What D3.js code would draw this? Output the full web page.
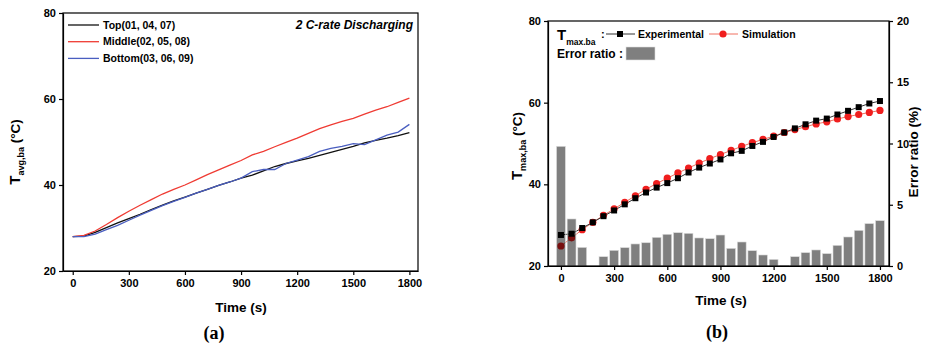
<!DOCTYPE html>
<html>
<head>
<meta charset="utf-8">
<script src="https://cdn.jsdelivr.net/npm/d3@7"></script>
<style>
  body { margin: 0; background: #fff; }
  svg { font-family: "Liberation Sans", Arial, sans-serif; }
  .axis text { font-size: 11px; font-weight: bold; fill: #000; }
  .axis path, .axis line { stroke: #000; stroke-width: 1.2; }
  .title { font-size: 13.5px; font-weight: bold; }
  .lbl { font-size: 10.5px; font-weight: bold; }
  .cap { font-family: "Liberation Serif", "DejaVu Serif", serif; font-size: 18px; font-weight: bold; }
</style>
</head>
<body>
<svg id="chart" width="931" height="345"></svg>
<script>
// time axis shared by all series (s)
var time = [0, 60, 120, 180, 240, 300, 360, 420, 480, 540, 600, 660, 720, 780, 840, 900,
  960, 1020, 1080, 1140, 1200, 1260, 1320, 1380, 1440, 1500, 1560, 1620, 1680, 1740, 1800];
var timeTicks = [0, 300, 600, 900, 1200, 1500, 1800];
var tempTicks = [20, 40, 60, 80];
var errTicks = [0, 5, 10, 15, 20];

// (a) average battery temperature per position
var topTemp = [28.0, 28.1, 29.0, 30.1, 31.2, 32.2, 33.2, 34.3, 35.3, 36.3, 37.2, 38.1, 39.0, 39.9, 40.7, 41.6,
  42.3, 43.3, 44.3, 45.0, 45.6, 46.2, 46.9, 47.6, 48.3, 49.0, 49.8, 50.4, 50.9, 51.5, 52.2];
var midTemp = [28.0, 28.3, 29.3, 30.8, 32.4, 33.9, 35.3, 36.6, 37.9, 39.0, 40.0, 41.2, 42.4, 43.5, 44.6, 45.7,
  47.0, 47.8, 48.9, 49.9, 50.9, 52.0, 53.1, 54.0, 54.8, 55.5, 56.5, 57.4, 58.2, 59.2, 60.2];
var botTemp = [28.0, 28.0, 28.6, 29.6, 30.6, 31.8, 33.0, 34.1, 35.2, 36.2, 37.1, 38.1, 39.0, 39.9, 40.7, 41.6,
  43.1, 43.6, 43.6, 45.0, 45.8, 46.6, 47.8, 48.5, 49.0, 49.6, 49.4, 50.5, 51.6, 52.3, 54.1];

// (b) max battery temperature, experiment vs simulation, and error ratio (%)
var expTemp = [27.6, 27.9, 29.3, 30.7, 32.2, 33.6, 35.1, 36.6, 38.0, 39.2, 40.3, 41.5, 42.9, 44.1, 45.1, 46.1,
  47.6, 48.2, 49.4, 50.4, 51.6, 52.7, 53.7, 54.7, 55.6, 56.1, 57.1, 58.0, 58.9, 59.8, 60.4];
var simTemp = [24.9, 26.9, 28.9, 30.7, 32.4, 34.0, 35.6, 37.2, 38.8, 40.2, 41.5, 42.8, 44.0, 45.2, 46.3, 47.3,
  48.3, 49.3, 50.2, 51.0, 51.8, 52.7, 53.4, 54.1, 54.8, 55.3, 56.0, 56.6, 57.1, 57.6, 58.1];
var errRatio = [9.77, 3.84, 1.52, 0, 0.76, 1.28, 1.50, 1.80, 1.90, 2.34, 2.59, 2.72, 2.67, 2.29, 2.23, 2.53,
  1.44, 1.96, 1.25, 0.90, 0.54, 0.05, 0.76, 1.09, 1.31, 1.01, 1.69, 2.37, 2.91, 3.46, 3.70];

var svg = d3.select("#chart");
var fmt = d3.format("d");

function frame(g, x, y) {
  g.append("rect")
    .attr("x", x.range()[0]).attr("y", y.range()[1])
    .attr("width", x.range()[1] - x.range()[0])
    .attr("height", y.range()[0] - y.range()[1])
    .attr("fill", "none").attr("stroke", "#000").attr("stroke-width", 1.2);
}

function axes(g, x, y) {
  g.append("g").attr("class", "axis")
    .attr("transform", "translate(0," + y.range()[0] + ")")
    .call(d3.axisBottom(x).tickValues(timeTicks).tickFormat(fmt).tickSize(4).tickSizeOuter(0).tickPadding(4));
  g.append("g").attr("class", "axis")
    .attr("transform", "translate(" + x.range()[0] + ",0)")
    .call(d3.axisLeft(y).tickValues(tempTicks).tickFormat(fmt).tickSize(4).tickSizeOuter(0).tickPadding(3));
}

// ---------- panel (a) ----------
var xa = d3.scaleLinear().domain([-52, 1846]).range([63, 418]);
var ya = d3.scaleLinear().domain([20, 80]).range([271, 13]);
var ga = svg.append("g");

var seriesA = [
  {name: "Top(01, 04, 07)", color: "#111", values: topTemp},
  {name: "Middle(02, 05, 08)", color: "#ef3b33", values: midTemp},
  {name: "Bottom(03, 06, 09)", color: "#4a5ec0", values: botTemp}
];

var lineA = d3.line()
  .x(function(d, i) { return xa(time[i]); })
  .y(function(d) { return ya(d); });

ga.selectAll("path.series")
  .data(seriesA)
  .enter().append("path")
  .attr("class", "series")
  .attr("fill", "none")
  .attr("stroke", function(d) { return d.color; })
  .attr("stroke-width", 1.3)
  .attr("d", function(d) { return lineA(d.values); });

frame(ga, xa, ya);
axes(ga, xa, ya);

var legA = ga.selectAll("g.leg")
  .data(seriesA)
  .enter().append("g")
  .attr("transform", function(d, i) { return "translate(68," + (25 + i * 16.7) + ")"; });
legA.append("line").attr("x1", 0).attr("x2", 31)
  .attr("stroke", function(d) { return d.color; }).attr("stroke-width", 1.3);
legA.append("text").attr("class", "lbl").attr("x", 35).attr("dy", "0.35em")
  .text(function(d) { return d.name; });

ga.append("text")
  .attr("x", 413).attr("y", 25).attr("dy", "0.35em")
  .attr("text-anchor", "end")
  .attr("font-size", 12).attr("font-weight", "bold").attr("font-style", "italic")
  .text("2 C-rate Discharging");

ga.append("text").attr("class", "title")
  .attr("x", 241).attr("y", 307).attr("dy", "0.35em").attr("text-anchor", "middle")
  .text("Time (s)");

var ta = ga.append("text").attr("class", "title")
  .attr("transform", "translate(20,152) rotate(-90)")
  .attr("text-anchor", "middle");
ta.append("tspan").attr("font-size", 15).text("T");
ta.append("tspan").attr("font-size", 9).attr("dy", 4).text("avg,ba");
ta.append("tspan").attr("dy", -4).text(" (\u00B0C)");

ga.append("text").attr("class", "cap")
  .attr("x", 214).attr("y", 333).attr("dy", "0.35em").attr("text-anchor", "middle")
  .text("(a)");

// ---------- panel (b) ----------
var xb = d3.scaleLinear().domain([-73, 1851]).range([548, 889]);
var yb = d3.scaleLinear().domain([20, 80]).range([266, 21]);
var yr = d3.scaleLinear().domain([0, 20]).range([266, 21]);
var gb = svg.append("g");

var lineB = d3.line()
  .x(function(d, i) { return xb(time[i]); })
  .y(function(d) { return yb(d); });

gb.append("path").attr("fill", "none").attr("stroke", "#f07060").attr("stroke-width", 1)
  .attr("d", lineB(simTemp));
gb.append("path").attr("fill", "none").attr("stroke", "#333").attr("stroke-width", 1)
  .attr("d", lineB(expTemp));

gb.selectAll("circle.sim")
  .data(simTemp)
  .enter().append("circle")
  .attr("class", "sim")
  .attr("cx", function(d, i) { return xb(time[i]); })
  .attr("cy", function(d) { return yb(d); })
  .attr("r", 3.6)
  .attr("fill", "#f01e1e");

gb.selectAll("rect.exp")
  .data(expTemp)
  .enter().append("rect")
  .attr("class", "exp")
  .attr("x", function(d, i) { return xb(time[i]) - 3; })
  .attr("y", function(d) { return yb(d) - 3; })
  .attr("width", 6).attr("height", 6)
  .attr("fill", "#000");

// error bars drawn on top, half transparent
gb.selectAll("rect.err")
  .data(errRatio)
  .enter().append("rect")
  .attr("class", "err")
  .attr("x", function(d, i) { return xb(time[i] - 25); })
  .attr("y", function(d) { return yr(d); })
  .attr("width", xb(50) - xb(0))
  .attr("height", function(d) { return yr(0) - yr(d); })
  .attr("fill", "#000").attr("fill-opacity", 0.5)
  .attr("stroke", "#ddd").attr("stroke-width", 0.6);

frame(gb, xb, yb);
axes(gb, xb, yb);
gb.append("g").attr("class", "axis")
  .attr("transform", "translate(" + xb.range()[1] + ",0)")
  .call(d3.axisRight(yr).tickValues(errTicks).tickFormat(fmt).tickSize(4).tickSizeOuter(0).tickPadding(4));

// legend
var lt = gb.append("text").attr("x", 557).attr("y", 34).attr("dy", "0.35em")
  .attr("font-weight", "bold");
lt.append("tspan").attr("font-size", 15).text("T");
lt.append("tspan").attr("font-size", 8.5).attr("dy", 5).text("max.ba");
gb.append("text").attr("x", 601).attr("y", 34).attr("dy", "0.35em")
  .attr("font-size", 11).attr("font-weight", "bold").text(":");

gb.append("line").attr("x1", 606).attr("x2", 635).attr("y1", 34).attr("y2", 34)
  .attr("stroke", "#333").attr("stroke-width", 1);
gb.append("rect").attr("x", 617).attr("y", 31).attr("width", 6).attr("height", 6).attr("fill", "#000");
gb.append("text").attr("class", "lbl").attr("font-size", 11).attr("x", 638).attr("y", 34).attr("dy", "0.35em")
  .text("Experimental");

gb.append("line").attr("x1", 709).attr("x2", 738).attr("y1", 34).attr("y2", 34)
  .attr("stroke", "#f07060").attr("stroke-width", 1);
gb.append("circle").attr("cx", 723).attr("cy", 34).attr("r", 3.6).attr("fill", "#f01e1e");
gb.append("text").attr("class", "lbl").attr("font-size", 11).attr("x", 742).attr("y", 34).attr("dy", "0.35em")
  .text("Simulation");

gb.append("text").attr("x", 557).attr("y", 54).attr("dy", "0.35em")
  .attr("font-size", 12).attr("font-weight", "bold")
  .text("Error ratio :");
gb.append("rect").attr("x", 626).attr("y", 47).attr("width", 29).attr("height", 13)
  .attr("fill", "#000").attr("fill-opacity", 0.5)
  .attr("stroke", "#ddd").attr("stroke-width", 0.6);

gb.append("text").attr("class", "title")
  .attr("x", 721).attr("y", 300).attr("dy", "0.35em").attr("text-anchor", "middle")
  .text("Time (s)");

var tb = gb.append("text").attr("class", "title")
  .attr("transform", "translate(522,146) rotate(-90)")
  .attr("text-anchor", "middle");
tb.append("tspan").attr("font-size", 15).text("T");
tb.append("tspan").attr("font-size", 9).attr("dy", 4).text("max,ba");
tb.append("tspan").attr("dy", -4).text(" (\u00B0C)");

gb.append("text").attr("class", "title")
  .attr("transform", "translate(918,152) rotate(-90)")
  .attr("text-anchor", "middle")
  .text("Error ratio (%)");

gb.append("text").attr("class", "cap")
  .attr("x", 717).attr("y", 332).attr("dy", "0.35em").attr("text-anchor", "middle")
  .text("(b)");
</script>
</body>
</html>
